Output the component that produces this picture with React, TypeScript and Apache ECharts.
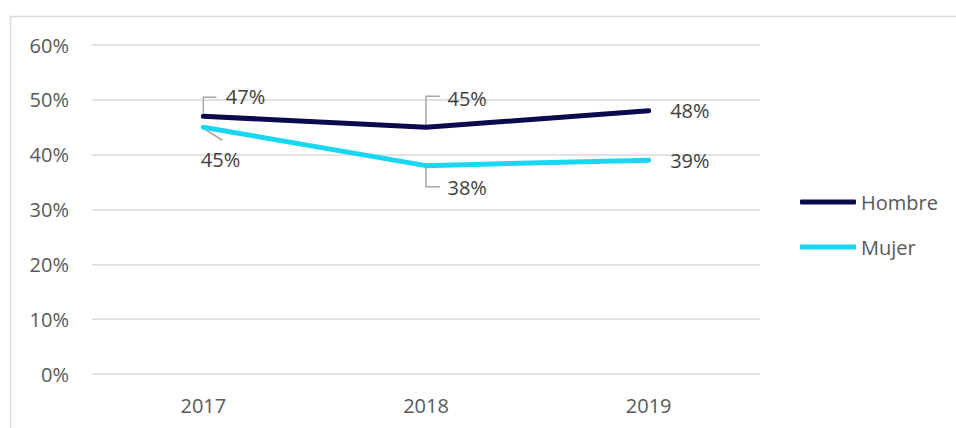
import React, { useEffect, useRef } from "react";
import * as echarts from "echarts";

const categories = ["2017", "2018", "2019"];
const hombre = [0.47, 0.45, 0.48];
const mujer = [0.45, 0.38, 0.39];
const seriesNames = ["Hombre", "Mujer"];
const yTicks = [0, 0.1, 0.2, 0.3, 0.4, 0.5, 0.6];

// label offsets (px) relative to each point
const hombreLabelPos = [[23, -19], [22, -28], [22, 0]];
const mujerLabelPos = [[-2, 33], [22, 22], [22, 1]];
// leader lines (px offsets from the point), null = no leader
const hombreLeaders: (number[][] | null)[] = [
  [[0, -3], [0, -19], [13, -19]],
  [[0, -2], [0, -31], [14, -31]],
  null,
];
const mujerLeaders: (number[][] | null)[] = [
  [[0, 1], [19, 13]],
  [[0, 2], [0, 21], [14, 21]],
  null,
];

const FONT = "'Open Sans', 'Noto Sans', sans-serif";

export default function App() {
  const ref = useRef<HTMLDivElement>(null);
  useEffect(() => {
    if (!ref.current) return;
    const chart = echarts.init(ref.current, null, { renderer: "svg" });
    const leaderShapes: number[][][] = [];
    const leaderData: number[][] = [];
    [
      [hombre, hombreLeaders],
      [mujer, mujerLeaders],
    ].forEach(([vals, leaders]: any) => {
      vals.forEach((v: number, i: number) => {
        if (leaders[i]) {
          leaderShapes.push(leaders[i]);
          leaderData.push([i, v, leaderShapes.length - 1]);
        }
      });
    });
    const pct = (v: number) => Math.round(v * 100) + "%";
    const mkData = (vals: number[], pos: number[][]) =>
      vals.map((v, i) => ({ value: v, label: { position: pos[i] } }));
    const lineSeries = (name: string, vals: number[], pos: number[][], color: string) => ({
      name,
      type: "line",
      data: mkData(vals, pos),
      symbol: "circle",
      symbolSize: 1,
      showSymbol: true,
      itemStyle: { color },
      lineStyle: { color, width: 5, cap: "round", join: "round" },
      z: 3,
      label: {
        show: true,
        formatter: (p: any) => pct(p.value),
        align: "left",
        verticalAlign: "middle",
        fontSize: 20,
        fontFamily: FONT,
        color: "#404040",
      },
    });
    chart.setOption({
      animation: false,
      textStyle: { fontFamily: FONT },
      graphic: [
        {
          type: "rect",
          x: 10.5,
          y: 16.5,
          shape: { x: 0, y: 0, width: 1200, height: 800 },
          style: { fill: "none", stroke: "#d9d9d9", lineWidth: 1.5 },
          silent: true,
        },
      ],
      grid: { left: 92, right: 196, top: 45, bottom: 54 },
      legend: {
        data: seriesNames,
        orient: "vertical",
        left: 795,
        top: 187,
        itemWidth: 56,
        itemHeight: 5,
        itemGap: 25,
        icon: "roundRect",
        textStyle: { fontSize: 20, color: "#595959", fontFamily: FONT },
      },
      xAxis: {
        type: "category",
        data: categories,
        boundaryGap: true,
        axisLine: { show: false },
        axisTick: { show: false },
        axisLabel: { fontSize: 20, color: "#595959", margin: 21, fontFamily: FONT },
      },
      yAxis: {
        type: "value",
        min: yTicks[0],
        max: yTicks[yTicks.length - 1],
        interval: 0.1,
        axisLine: { show: false },
        axisTick: { show: false },
        splitLine: { lineStyle: { color: "#d9d9d9", width: 1.5 } },
        axisLabel: {
          fontSize: 20,
          color: "#595959",
          margin: 23,
          fontFamily: FONT,
          formatter: (v: number) => pct(v),
        },
      },
      series: [
        lineSeries(seriesNames[0], hombre, hombreLabelPos, "#0b0a4f"),
        lineSeries(seriesNames[1], mujer, mujerLabelPos, "#19d6f1"),
        {
          type: "custom",
          name: "leaders",
          data: leaderData,
          encode: { x: 0, y: 1 },
          z: 2,
          silent: true,
          renderItem: (params: any, api: any) => {
            const c = api.coord([api.value(0), api.value(1)]);
            const shape = leaderShapes[api.value(2)];
            return {
              type: "polyline",
              shape: { points: shape.map((p) => [c[0] + p[0], c[1] + p[1]]) },
              style: { stroke: "#a6a6a6", lineWidth: 1.5, fill: "none" },
            };
          },
        },
      ],
    });
    return () => chart.dispose();
  }, []);
  return (
    <div
      ref={ref}
      style={{ position: "absolute", left: 0, top: 0, width: 956, height: 428, background: "#fff" }}
    />
  );
}
